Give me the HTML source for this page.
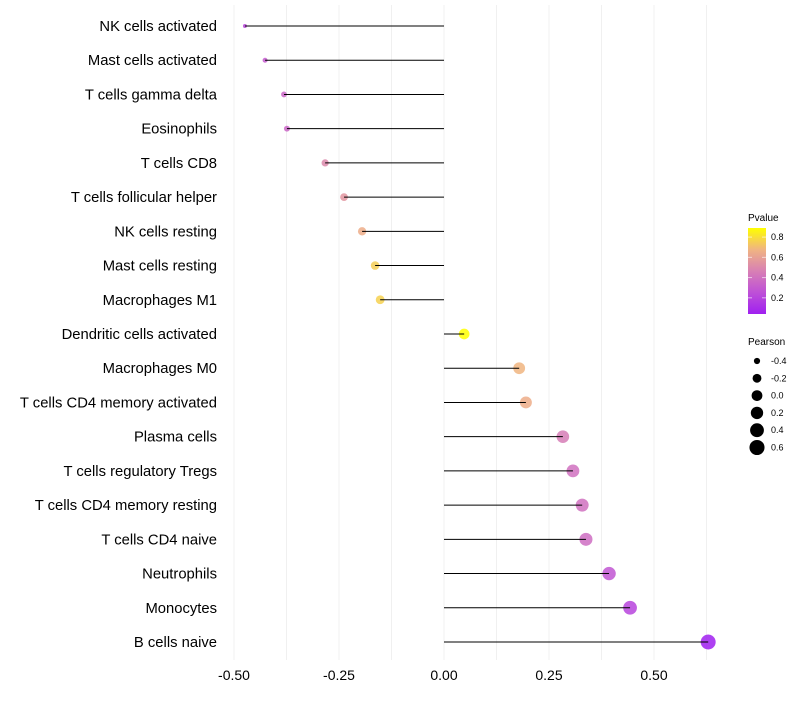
<!DOCTYPE html>
<html><head><meta charset="utf-8"><style>
body{margin:0;background:#fff;font-family:"Liberation Sans",sans-serif}
svg text{font-family:"Liberation Sans",sans-serif}
</style></head><body>
<svg id="chart" width="800" height="700"></svg>
<script>
const categories=["NK cells activated","Mast cells activated","T cells gamma delta","Eosinophils","T cells CD8","T cells follicular helper","NK cells resting","Mast cells resting","Macrophages M1","Dendritic cells activated","Macrophages M0","T cells CD4 memory activated","Plasma cells","T cells regulatory  Tregs ","T cells CD4 memory resting","T cells CD4 naive","Neutrophils","Monocytes","B cells naive"];
const pearson=[-0.474,-0.426,-0.381,-0.374,-0.283,-0.238,-0.195,-0.164,-0.152,0.048,0.179,0.195,0.283,0.307,0.329,0.338,0.393,0.443,0.629];
const pvalues=[0.22,0.3,0.35,0.35,0.5,0.55,0.65,0.75,0.76,0.89,0.68,0.65,0.45,0.4,0.4,0.38,0.28,0.2,0.04];
const xTicks=[-0.5,-0.25,0,0.25,0.5];
const xTickLabels=["-0.50","-0.25","0.00","0.25","0.50"];
const pLegendTicks=[0.2,0.4,0.6,0.8];
const sizeLegend=[-0.4,-0.2,0.0,0.2,0.4,0.6];

const svg=document.getElementById('chart');
const NS='http://www.w3.org/2000/svg';
function mk(t,a,p){const e=document.createElementNS(NS,t);for(const k in a)e.setAttribute(k,a[k]);(p||svg).appendChild(e);return e;}
const xS=v=>444+v*420;
const yS=i=>26+i*(642-26)/(categories.length-1);
const pMin=0.04,pMax=0.89;
const stops=[[0,[160,32,240]],[0.25,[190,80,215]],[0.5,[216,128,180]],[0.75,[240,180,130]],[1,[255,255,0]]];
function col(p){let t=Math.max(0,Math.min(1,(p-pMin)/(pMax-pMin)));for(let i=1;i<stops.length;i++){if(t<=stops[i][0]){const a=stops[i-1],b=stops[i];const f=(t-a[0])/(b[0]-a[0]);const c=a[1].map((v,j)=>Math.round(v+(b[1][j]-v)*f));return `rgb(${c})`;}}return 'rgb(255,255,0)';}
const rS=v=>Math.sqrt(4+Math.max(0,(v+0.474))/1.1*52);

for(let v=-0.5;v<=0.625;v+=0.125){const g=mk('line',{x1:xS(v),x2:xS(v),y1:5,y2:660,stroke:'#f0f0f0','stroke-width':1});

}
xTicks.forEach((v,i)=>{const t=mk('text',{x:xS(v),y:680,'font-size':14,'text-anchor':'middle',fill:'#000'});t.textContent=xTickLabels[i];

});

categories.forEach((c,i)=>{
const y=yS(i);
const lab=mk('text',{x:217,y:y+5,'font-size':14.8,'text-anchor':'end',fill:'#000'});lab.textContent=c;


const pt=mk('circle',{cx:xS(pearson[i]),cy:y,r:rS(pearson[i]),fill:col(pvalues[i]),'fill-opacity':0.85});


const ln=mk('line',{x1:xS(0),x2:xS(pearson[i]),y1:y,y2:y,stroke:'#000','stroke-width':1});


});

const lt=mk('text',{x:748,y:221,'font-size':10});lt.textContent='Pvalue';


const defs=mk('defs',{});const lg=mk('linearGradient',{id:'pg',x1:0,y1:1,x2:0,y2:0},defs);
stops.forEach(s=>mk('stop',{offset:s[0],'stop-color':`rgb(${s[1]})`},lg));
const bar=mk('rect',{x:748,y:228,width:18,height:86,fill:'url(#pg)'});


const pY=p=>314-(p-pMin)/(pMax-pMin)*86;
pLegendTicks.forEach(p=>{const t=mk('text',{x:771,y:pY(p)+3,'font-size':9});t.textContent=p.toFixed(1);


mk('line',{x1:748,x2:752,y1:pY(p),y2:pY(p),stroke:'#fff','stroke-opacity':0.6});mk('line',{x1:762,x2:766,y1:pY(p),y2:pY(p),stroke:'#fff','stroke-opacity':0.6});});
const st=mk('text',{x:748,y:345,'font-size':10});st.textContent='Pearson';


sizeLegend.forEach((v,i)=>{const y=361+i*17.3;const c=mk('circle',{cx:757,cy:y,r:rS(v)*0.95+0.5,fill:'#000'});


const t=mk('text',{x:771,y:y+3,'font-size':9});t.textContent=v.toFixed(1);

});
</script>
</body></html>
